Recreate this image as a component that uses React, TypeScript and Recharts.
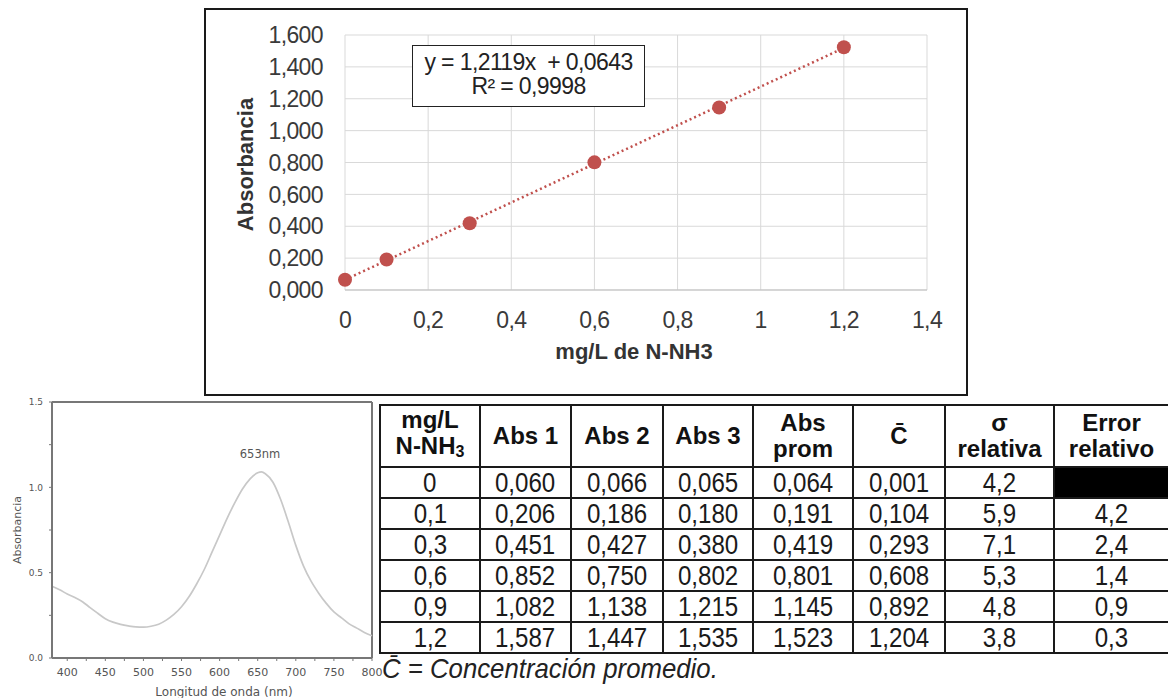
import React from "react";
import {
  ComposedChart,
  LineChart,
  Line,
  Scatter,
  XAxis,
  YAxis,
  CartesianGrid,
  ReferenceLine,
  ReferenceDot,
} from "recharts";

const SANS = "'Liberation Sans', Arial, sans-serif";
const DEJAVU = "'DejaVu Sans', Verdana, sans-serif";

// Calibration measurements, mg/L N-NH3
const concentrations = [0, 0.1, 0.3, 0.6, 0.9, 1.2];
const abs1 = [0.06, 0.206, 0.451, 0.852, 1.082, 1.587];
const abs2 = [0.066, 0.186, 0.427, 0.75, 1.138, 1.447];
const abs3 = [0.065, 0.18, 0.38, 0.802, 1.215, 1.535];
const absMean = [0.064, 0.191, 0.419, 0.801, 1.145, 1.523];
const concMean = [0.001, 0.104, 0.293, 0.608, 0.892, 1.204];
const sigmaRel = [4.2, 5.9, 7.1, 5.3, 4.8, 3.8];
const errorRel: (number | null)[] = [null, 4.2, 2.4, 1.4, 0.9, 0.3];

// Linear fit
const slope = 1.2119;
const intercept = 0.0643;
const r2 = 0.9998;
const trendRange = [0, 1.2];

const calXTicks = [0, 0.2, 0.4, 0.6, 0.8, 1, 1.2, 1.4];
const calYTicks = [0, 0.2, 0.4, 0.6, 0.8, 1, 1.2, 1.4, 1.6];

// Absorption spectrum
const wavelengths = [
  380, 390, 400, 410, 420, 430, 440, 450, 460, 470, 480, 490, 500, 510, 520, 530, 540, 550, 560, 570,
  580, 590, 600, 610, 620, 630, 640, 650, 655, 660, 670, 680, 690, 700, 710, 720, 730, 740, 750, 760,
  770, 780, 790, 800,
];
const absorbance = [
  0.42, 0.4, 0.375, 0.355, 0.33, 0.295, 0.262, 0.23, 0.21, 0.197, 0.188, 0.182, 0.181, 0.186, 0.198, 0.222,
  0.255, 0.3, 0.36, 0.435, 0.52, 0.62, 0.72, 0.82, 0.91, 0.99, 1.05, 1.085, 1.09, 1.08, 1.03, 0.93,
  0.8, 0.66, 0.54, 0.45, 0.38, 0.32, 0.27, 0.235, 0.2, 0.175, 0.15, 0.13,
];
const peakNm = 653;
const specXTicks = [400, 425, 450, 475, 500, 525, 550, 575, 600, 625, 650, 675, 700, 725, 750, 775, 800];
const specYTicks = [0, 0.25, 0.5, 0.75, 1, 1.25, 1.5];

const comma = (v: number, digits?: number) =>
  (digits === undefined ? String(v) : v.toFixed(digits)).replace(".", ",");

const calPoints = concentrations.map((x, i) => ({ x, y: absMean[i] }));
const trendPoints = trendRange.map((x) => ({ x, y: slope * x + intercept }));
const spectrumPoints = wavelengths.map((nm, i) => ({ nm, a: absorbance[i] }));

const RED = "#c0504d";
const TICK = "#3a3a3a";

// squeezed text for the narrow-looking labels
function Narrow({ children, scale = 0.86 }: { children: React.ReactNode; scale?: number }) {
  return (
    <span style={{ display: "inline-block", transform: `scaleX(${scale})`, transformOrigin: "center" }}>
      {children}
    </span>
  );
}

function CalibrationChart() {
  const tickStyle = { fontSize: 23, fill: TICK, fontFamily: SANS, letterSpacing: -0.6 };
  return (
    <>
      <div
        style={{
          position: "absolute",
          left: 204,
          top: 8,
          width: 764,
          height: 388,
          border: "2px solid #1a1a1a",
          boxSizing: "border-box",
        }}
      />
      <div style={{ position: "absolute", left: 204, top: 8 }}>
        <ComposedChart width={764} height={388} margin={{ top: 27, right: 41, bottom: 58, left: 0 }}>
          <CartesianGrid stroke="#d9d9d9" strokeWidth={1} />
          <XAxis
            type="number"
            dataKey="x"
            domain={[0, 1.4]}
            ticks={calXTicks}
            interval={0}
            tickFormatter={(v: number) => comma(v)}
            height={48}
            tickSize={0}
            tickMargin={22}
            axisLine={{ stroke: "#bfbfbf" }}
            tick={tickStyle}
            label={{
              value: "mg/L de N-NH3",
              position: "bottom",
              offset: 5,
              dx: -2,
              style: { fontSize: 22, fontWeight: 700, fill: "#333", fontFamily: SANS },
            }}
          />
          <YAxis
            type="number"
            dataKey="y"
            domain={[0, 1.6]}
            ticks={calYTicks}
            interval={0}
            tickFormatter={(v: number) => comma(v, 3)}
            width={141}
            tickSize={0}
            tickMargin={22}
            axisLine={false}
            tick={tickStyle}
            label={{
              value: "Absorbancia",
              angle: -90,
              position: "center",
              dx: -29,
              dy: 2,
              style: { fontSize: 22, fontWeight: 700, fill: "#333", fontFamily: SANS },
            }}
          />
          <Line
            data={trendPoints}
            dataKey="y"
            stroke={RED}
            strokeWidth={2.5}
            strokeDasharray="2 3"
            dot={false}
            activeDot={false}
            isAnimationActive={false}
          />
          <Scatter
            data={calPoints}
            dataKey="y"
            fill={RED}
            isAnimationActive={false}
            shape={(p: any) => <circle cx={p.cx} cy={p.cy} r={7} fill={RED} />}
          />
        </ComposedChart>
      </div>
      <div
        style={{
          position: "absolute",
          left: 412,
          top: 45,
          width: 233,
          height: 62,
          border: "1.5px solid #222",
          boxSizing: "border-box",
          background: "#fff",
          fontFamily: SANS,
          fontSize: 23,
          letterSpacing: -0.6,
          lineHeight: "24px",
          color: "#222",
          textAlign: "center",
          paddingTop: 4,
          whiteSpace: "pre",
        }}
      >
        {`y = ${comma(slope, 4)}x  + ${comma(intercept, 4)}`}
        <br />
        {`R² = ${comma(r2, 4)}`}
      </div>
    </>
  );
}

function SpectrumChart() {
  const axisStroke = "#777";
  return (
    <div style={{ position: "absolute", left: 0, top: 395 }}>
      <LineChart width={392} height={303} margin={{ top: 7, right: 20, bottom: 0, left: 0 }}>
        <XAxis
          type="number"
          dataKey="nm"
          domain={[380, 800]}
          ticks={specXTicks}
          interval={0}
          tickFormatter={(v: number) => (v % 50 === 0 ? String(v) : "")}
          height={40}
          tickSize={3}
          tickMargin={7}
          axisLine={{ stroke: axisStroke, strokeWidth: 2 }}
          tickLine={{ stroke: axisStroke }}
          tick={{ fontSize: 11, fill: "#555", fontFamily: DEJAVU }}
          label={{
            value: "Longitud de onda (nm)",
            position: "insideBottom",
            offset: 2,
            dx: 12,
            style: { fontSize: 12, fill: "#555", fontFamily: DEJAVU },
          }}
        />
        <YAxis
          type="number"
          domain={[0, 1.5]}
          ticks={specYTicks}
          interval={0}
          tickFormatter={(v: number) => (Number.isInteger(v * 2) ? v.toFixed(1) : "")}
          width={52}
          tickSize={3}
          tickMargin={6}
          axisLine={{ stroke: axisStroke, strokeWidth: 2 }}
          tickLine={{ stroke: axisStroke }}
          tick={{ fontSize: 9, fill: "#555", fontFamily: DEJAVU }}
          label={{
            value: "Absorbancia",
            angle: -90,
            position: "center",
            dx: -9,
            style: { fontSize: 11, fill: "#555", fontFamily: DEJAVU },
          }}
        />
        <ReferenceLine y={1.5} stroke={axisStroke} strokeWidth={2} />
        <ReferenceLine x={800} stroke={axisStroke} strokeWidth={2} />
        <Line
          data={spectrumPoints}
          dataKey="a"
          type="monotone"
          stroke="#c8c8c8"
          strokeWidth={1.7}
          dot={false}
          activeDot={false}
          isAnimationActive={false}
        />
        <ReferenceDot
          x={peakNm}
          y={absorbance[wavelengths.indexOf(655)]}
          r={0}
          fill="none"
          stroke="none"
          label={{
            value: `${peakNm}nm`,
            position: "top",
            offset: 14,
            style: { fontSize: 11.5, fill: "#555", fontFamily: DEJAVU },
          }}
        />
      </LineChart>
    </div>
  );
}

const colWidths = [100, 91, 92, 90, 100, 92, 109, 115];

const headCell: React.CSSProperties = {
  border: "2px solid #1a1a1a",
  padding: 0,
  textAlign: "center",
  verticalAlign: "middle",
  fontFamily: SANS,
  fontWeight: 700,
  fontSize: 24,
  lineHeight: "26px",
  color: "#111",
};

const bodyCell: React.CSSProperties = {
  border: "2px solid #1a1a1a",
  padding: 0,
  textAlign: "center",
  verticalAlign: "middle",
  fontFamily: SANS,
  fontSize: 28,
  lineHeight: "27px",
  color: "#1a1a1a",
};

const CBAR = "C\u0304";

function DataTable() {
  return (
    <>
      <table
        style={{
          position: "absolute",
          left: 379,
          top: 404,
          borderCollapse: "collapse",
          tableLayout: "fixed",
          width: colWidths.reduce((a, b) => a + b, 0),
          background: "#fff",
        }}
      >
        <colgroup>
          {colWidths.map((w, i) => (
            <col key={i} style={{ width: w }} />
          ))}
        </colgroup>
        <thead>
          <tr style={{ height: 62 }}>
            <th style={headCell}>
              mg/L
              <br />
              N-NH<sub style={{ fontSize: 16, verticalAlign: "-3px" }}>3</sub>
            </th>
            <th style={headCell}>Abs 1</th>
            <th style={headCell}>Abs 2</th>
            <th style={headCell}>Abs 3</th>
            <th style={headCell}>
              Abs
              <br />
              prom
            </th>
            <th style={headCell}>{CBAR}</th>
            <th style={headCell}>
              σ
              <br />
              relativa
            </th>
            <th style={headCell}>
              Error
              <br />
              relativo
            </th>
          </tr>
        </thead>
        <tbody>
          {concentrations.map((c, i) => (
            <tr key={i} style={{ height: 31 }}>
              <td style={bodyCell}>
                <Narrow>{comma(c)}</Narrow>
              </td>
              <td style={bodyCell}>
                <Narrow>{comma(abs1[i], 3)}</Narrow>
              </td>
              <td style={bodyCell}>
                <Narrow>{comma(abs2[i], 3)}</Narrow>
              </td>
              <td style={bodyCell}>
                <Narrow>{comma(abs3[i], 3)}</Narrow>
              </td>
              <td style={bodyCell}>
                <Narrow>{comma(absMean[i], 3)}</Narrow>
              </td>
              <td style={bodyCell}>
                <Narrow>{comma(concMean[i], 3)}</Narrow>
              </td>
              <td style={bodyCell}>
                <Narrow>{comma(sigmaRel[i], 1)}</Narrow>
              </td>
              <td style={{ ...bodyCell, background: errorRel[i] === null ? "#000" : "#fff" }}>
                {errorRel[i] === null ? "" : <Narrow>{comma(errorRel[i] as number, 1)}</Narrow>}
              </td>
            </tr>
          ))}
        </tbody>
      </table>
      <div
        style={{
          position: "absolute",
          left: 382,
          top: 653,
          fontFamily: SANS,
          fontStyle: "italic",
          fontSize: 28,
          lineHeight: "32px",
          color: "#222",
          whiteSpace: "nowrap",
          transform: "scaleX(0.92)",
          transformOrigin: "left center",
        }}
      >
        {CBAR} = Concentración promedio.
      </div>
    </>
  );
}

export default function App() {
  return (
    <div
      style={{
        position: "absolute",
        left: 0,
        top: 0,
        width: 1168,
        height: 698,
        overflow: "hidden",
        background: "#fff",
      }}
    >
      <CalibrationChart />
      <SpectrumChart />
      <DataTable />
    </div>
  );
}
